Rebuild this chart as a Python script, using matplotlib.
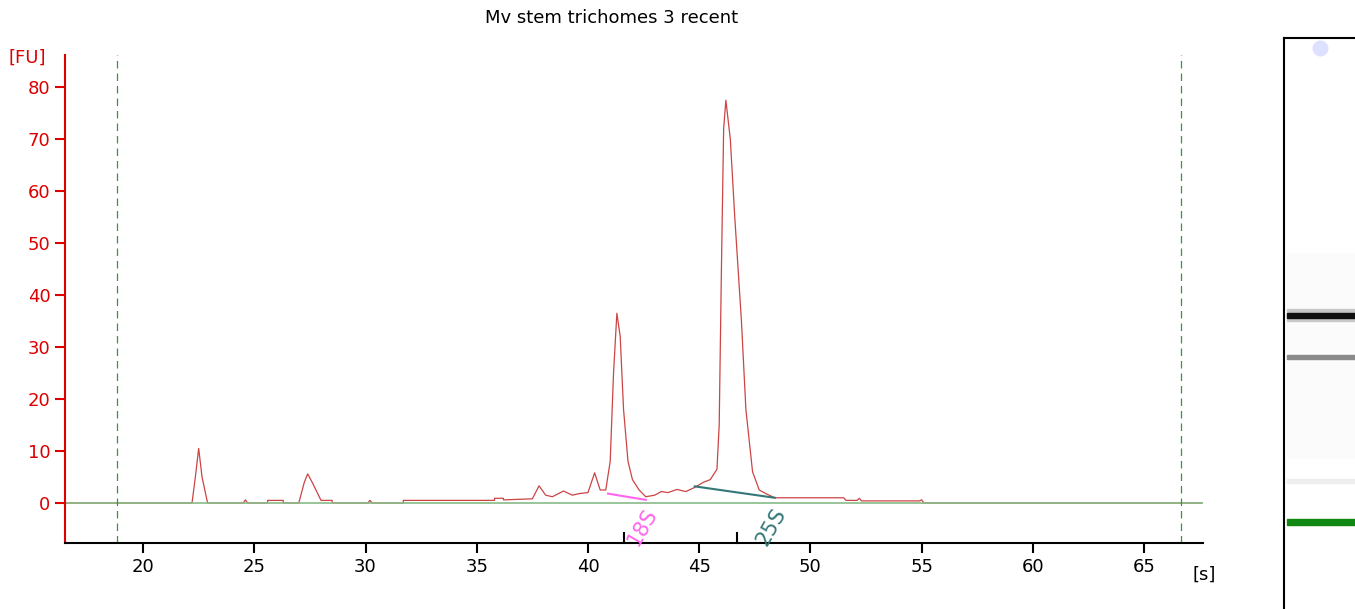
import matplotlib
matplotlib.use("Agg")
from matplotlib import pyplot as plt

# electropherogram trace (seconds, FU)
t = [16.5, 22.2, 22.35, 22.5, 22.65, 22.9, 24.5, 24.6, 24.7, 25.6, 25.6, 26.3, 26.3,
     27.0, 27.25, 27.4, 27.6, 28.0, 28.0, 28.5, 28.5, 30.1, 30.2, 30.3, 31.7, 31.7,
     35.8, 35.8, 36.2, 36.2, 37.5, 37.8, 38.1, 38.4, 38.9, 39.3, 39.6, 40.0, 40.3,
     40.55, 40.8, 41.0, 41.15, 41.3, 41.45, 41.6, 41.8, 42.0, 42.3, 42.6, 43.0, 43.3,
     43.6, 44.0, 44.4, 44.8, 45.2, 45.5, 45.8, 45.9, 46.0, 46.1, 46.2, 46.4, 46.6,
     46.9, 47.1, 47.4, 47.7, 48.0, 48.4, 51.5, 51.6, 52.1, 52.2, 52.3, 54.9, 55.0,
     55.1, 67.6]
fu = [0, 0, 5, 10.5, 5, 0, 0, 0.6, 0, 0, 0.5, 0.5, 0,
      0, 4, 5.6, 4, 0.5, 0.5, 0.5, 0, 0, 0.5, 0, 0, 0.5,
      0.5, 0.9, 0.9, 0.6, 0.8, 3.3, 1.5, 1.2, 2.3, 1.5, 1.8, 2.0, 5.8,
      2.5, 2.5, 8, 25, 36.5, 32, 18, 8, 4.5, 2.5, 1.2, 1.5, 2.2,
      2.0, 2.6, 2.2, 3.0, 4.0, 4.5, 6.5, 15, 45, 72, 77.5, 70, 55,
      35, 18, 6, 2.5, 1.8, 1.0, 1.0, 0.5, 0.5, 0.9, 0.4, 0.4, 0.6,
      0, 0]

markers_s = [41.63, 46.7]
peak_names = ["18S", "25S"]
peak_lines = [((40.9, 1.8), (42.6, 0.6)), ((44.8, 3.2), (48.4, 1.0))]
peak_colors = ["#ff66ee", "#337777"]
window = [18.83, 66.66]
title = "Mv stem trichomes 3 recent"

fig = plt.figure(figsize=(13.55, 6.09), dpi=100)
ax = fig.add_axes([65/1355, 1-543/609, (1203-65)/1355, (543-55)/609])
ax.plot(t, fu, color="#cc4444", lw=0.9)
ax.axhline(0, color="#88bb88", lw=1.2)
for w in window:
    ax.axvline(w, color="#339933", ls=(0, (6, 4)), lw=0.9)
for (p0, p1), c, name in zip(peak_lines, peak_colors, peak_names):
    ax.plot([p0[0], p1[0]], [p0[1], p1[1]], color=c, lw=1.5)
    ax.text(p1[0] - 0.1, -0.3, name, color=c, rotation=60, fontsize=15,
            ha="right", va="top", rotation_mode="anchor")
for m in markers_s:
    ax.plot([m, m], [-7.7, -5.8], color="black", lw=1.5, clip_on=False)

ax.set_xlim(16.49, 67.65)
ax.set_ylim(-7.7, 86.2)
ax.set_xticks(range(20, 70, 5))
ax.set_yticks(range(0, 90, 10))
ax.spines["top"].set_visible(False)
ax.spines["right"].set_visible(False)
ax.spines["left"].set_color("#dd0000")
ax.spines["left"].set_linewidth(1.5)
ax.spines["bottom"].set_linewidth(1.5)
ax.tick_params(axis="y", colors="#dd0000", labelsize=13, length=7, width=1.5)
ax.tick_params(axis="x", labelsize=13, length=7, width=1.5)
fig.text(8/1355, 1-58/609, "[FU]", color="#dd0000", fontsize=13, va="center")
fig.text(1192/1355, 1-575/609, "[s]", fontsize=13, va="center")
fig.text(612/1355, 1-18/609, title, fontsize=13, ha="center", va="center")

# gel image lane
gax = fig.add_axes([1284/1355, 0, 71/1355, 571/609])
gax.set_xlim(0, 1)
gax.set_ylim(571, 0)
gax.set_xticks([])
gax.set_yticks([])
for s in ["right", "bottom"]:
    gax.spines[s].set_visible(False)
gax.spines["left"].set_linewidth(1.5)
gax.spines["top"].set_linewidth(1.5)
gax.axhspan(215, 420, xmin=0.04, color="#fbfbfb")
gax.axhspan(271, 283, xmin=0.04, color="#c8c8c8")
gax.axhspan(275, 280, xmin=0.04, color="#111111")
gax.axhspan(317, 321, xmin=0.04, color="#8a8a8a")
gax.axhspan(441, 445, xmin=0.04, color="#eeeeee")
gax.axhspan(481, 487, xmin=0.04, color="#118811")
gax.scatter([0.5], [10], s=110, color="#dde0ff", marker="o")
fig.savefig("out.png", dpi=100)
